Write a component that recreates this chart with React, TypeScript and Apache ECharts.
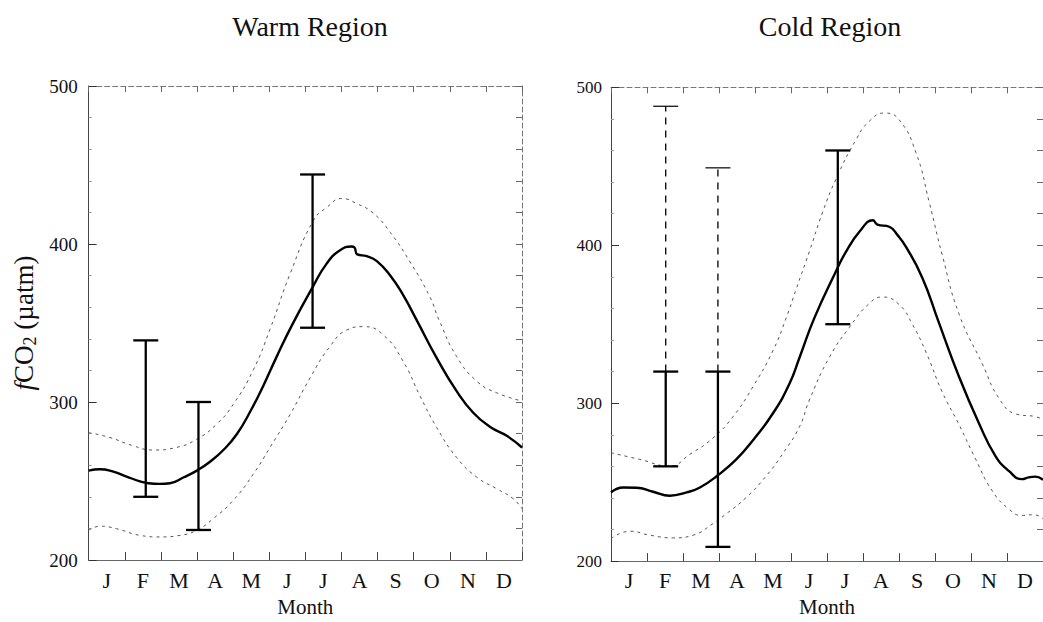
import React, { useEffect, useRef } from "react";
import * as echarts from "echarts";

// Month initials along the bottom axis
const MONTHS = ["J", "F", "M", "A", "M", "J", "J", "A", "S", "O", "N", "D"];
const Y_MIN = 200;
const Y_MAX = 500;
const Y_STEP = 100;

// Warm region: [month, fCO2]
const warmMean: [number, number][] = [
  [0, 256.6], [0.31, 257.4], [0.68, 255.9], [1.05, 252.8], [1.42, 249.8], [1.65, 248.6],
  [1.97, 248.2], [2.25, 248.6], [2.62, 252.2], [3.02, 256.9], [3.36, 262.2], [3.73, 269.6],
  [4.1, 279.6], [4.47, 293.8], [4.84, 310.5], [5.2, 328.4], [5.62, 348.2], [6.18, 371.8],
  [6.59, 387.6], [6.96, 396.0], [7.28, 398.4], [7.36, 397.8], [7.44, 393.4], [7.7, 392.3],
  [7.98, 389.2], [8.35, 380.1], [8.71, 367.6], [9.09, 351.5], [9.64, 327.8], [10.19, 306.9],
  [10.65, 293.2], [11.12, 284.2], [11.58, 278.6], [12, 271.2],
];
const warmUpper: [number, number][] = [
  [0, 280.6], [0.59, 277.5], [1.23, 272.3], [1.78, 269.6], [2.42, 271.2], [2.99, 276.4],
  [3.54, 285.9], [4.0, 298.4], [4.56, 320.4], [5.02, 346], [5.58, 381.3], [6.22, 414.8],
  [6.59, 423.1], [7.01, 428.8], [7.42, 425.6], [7.88, 419.5], [8.35, 407.4], [8.9, 388.6],
  [9.45, 366.5], [9.7, 352], [10.19, 328.8], [10.75, 313.1], [11.3, 305.8], [12, 300.6],
];
const warmLower: [number, number][] = [
  [0, 218.8], [0.31, 221.4], [0.77, 219.8], [1.42, 215.6], [1.97, 214.6], [2.53, 215.6],
  [2.99, 218.8], [3.45, 226.2], [4.0, 237.7], [4.56, 254.4], [5.02, 271.2], [5.58, 292.2],
  [6.13, 315.2], [6.68, 335.1], [7.15, 345.6], [7.61, 347.7], [8.16, 342.4], [8.71, 325.7],
  [9.18, 303.6], [9.64, 283.8], [10.19, 264.9], [10.75, 252.4], [11.3, 245.1], [11.76, 238.7],
  [12, 232.4],
];
// Warm region ranges: [month, low, high]
const warmBars: [number, number, number][] = [
  [1.58, 240, 339],
  [3.04, 219, 300],
  [6.2, 347, 444],
];

// Cold region
const coldMean: [number, number][] = [
  [0, 243.5], [0.34, 246.6], [0.71, 246.4], [1.17, 243.9], [1.63, 241.4], [2.1, 243.5],
  [2.47, 246.6], [2.97, 254.4], [3.48, 264.4], [3.94, 276.4], [4.5, 293.6], [4.96, 312.4],
  [5.24, 329.1], [5.65, 354], [6.25, 383.5], [6.53, 396], [6.9, 408.5], [7.27, 415.8],
  [7.4, 413.1], [7.73, 411.7], [7.96, 406.4], [8.19, 399.1], [8.65, 379.3], [9.09, 352.1],
  [9.67, 316.6], [10.22, 287.3], [10.68, 266.5], [11.05, 257.1], [11.42, 251.9], [11.6, 253],
  [11.79, 253.5], [12, 251.4],
];
const coldUpper: [number, number][] = [
  [0, 268.6], [0.8, 264.4], [1.63, 260.2], [2.19, 267.6], [2.83, 277.9], [3.39, 291.5],
  [3.94, 310.3], [4.5, 333.3], [4.87, 354.2], [5.14, 372], [5.51, 396], [5.88, 421],
  [6.25, 441.9], [6.81, 467], [7.17, 478.4], [7.59, 483.7], [8.0, 479.5], [8.47, 458.7],
  [8.84, 427.2], [9.2, 393.9], [9.67, 356.3], [10.31, 325.1], [10.78, 303],
  [11.24, 293.2], [11.79, 291.5], [12, 289.5],
];
const coldLower: [number, number][] = [
  [0, 214.3], [0.53, 218.9], [1.08, 216.4], [1.73, 214.7], [2.28, 216.4], [2.83, 223.7],
  [3.2, 229.9], [3.76, 240.4], [4.31, 253.9], [4.77, 268], [5.24, 285.3], [5.51, 302],
  [6.07, 329.2], [6.62, 347.9], [7.17, 363], [7.54, 367.2], [8.0, 362.5], [8.37, 350],
  [8.75, 332.3], [9.2, 307.1], [9.67, 286.3], [10.13, 264.5], [10.59, 244.5], [11.05, 233],
  [11.42, 228.9], [11.75, 229.4], [12, 226.8],
];
const coldBars: [number, number, number][] = [
  [1.52, 260, 320],
  [2.97, 209, 320],
  [6.3, 350, 460],
];
// Upper extensions of the cold-region ranges (dashed)
const coldBarExt: [number, number, number][] = [
  [1.52, 320, 488],
  [2.97, 320, 449],
];

const SERIF = "'Liberation Serif', 'Times New Roman', serif";
const INK = "#111";

function rangeRenderer(capW: number, lineWidth: number, dashed: boolean, bottomCap: boolean) {
  return (params: any, api: any) => {
    const x = api.value(0);
    const lo = api.coord([x, api.value(1)]);
    const hi = api.coord([x, api.value(2)]);
    const half = capW / 2;
    const stem = {
      stroke: "#000",
      lineWidth,
      lineDash: dashed ? [7, 6] : null,
    };
    const cap = { stroke: "#000", lineWidth: dashed ? 1.2 : lineWidth };
    const children: any[] = [
      { type: "line", shape: { x1: lo[0], y1: lo[1], x2: hi[0], y2: hi[1] }, style: stem },
      { type: "line", shape: { x1: hi[0] - half, y1: hi[1], x2: hi[0] + half, y2: hi[1] }, style: cap },
    ];
    if (bottomCap) {
      children.push({
        type: "line",
        shape: { x1: lo[0] - half, y1: lo[1], x2: lo[0] + half, y2: lo[1] },
        style: cap,
      });
    }
    return { type: "group", children };
  };
}

type Panel = {
  left: number;
  top: number;
  width: number;
  height: number;
  tickFont: number;
  tickMargin: number;
  monthMargin: number;
  monthGap: number;
  yName: boolean;
  mean: [number, number][];
  upper: [number, number][];
  lower: [number, number][];
  bars: [number, number, number][];
  ext: [number, number, number][];
};

export default function App() {
  const ref = useRef<HTMLDivElement>(null);

  useEffect(() => {
    if (!ref.current) return;
    const chart = echarts.init(ref.current, undefined, { renderer: "svg" });

    const panels: Panel[] = [
      {
        left: 88.7, top: 86, width: 433.3, height: 477.3,
        tickFont: 19, tickMargin: 11, monthMargin: 9, monthGap: 36, yName: true,
        mean: warmMean, upper: warmUpper, lower: warmLower, bars: warmBars, ext: [],
      },
      {
        left: 611, top: 87.3, width: 433, height: 478.7,
        tickFont: 17, tickMargin: 9, monthMargin: 8, monthGap: 34, yName: false,
        mean: coldMean, upper: coldUpper, lower: coldLower, bars: coldBars, ext: coldBarExt,
      },
    ];

    const grid: any[] = [];
    const xAxis: any[] = [];
    const yAxis: any[] = [];
    const series: any[] = [];

    const frameSolid = { show: true, lineStyle: { color: "#444", width: 1 } };
    const frameDashed = { show: true, lineStyle: { color: "#777", width: 1, type: [5, 3] } };

    panels.forEach((p, i) => {
      grid.push({ left: p.left, top: p.top, width: p.width, height: p.height, containLabel: false });

      // data axis (month 0–12), drawn along the top edge
      xAxis.push({
        type: "value", gridIndex: i, position: "top", min: 0, max: 12, interval: 1,
        axisLine: frameDashed,
        axisTick: { show: true, inside: true, length: 6, lineStyle: { color: "#666" } },
        axisLabel: { show: false }, splitLine: { show: false },
      });
      // month labels along the bottom edge
      xAxis.push({
        type: "category", gridIndex: i, position: "bottom", data: MONTHS, boundaryGap: true,
        axisLine: { show: true, lineStyle: { color: "#666", width: 1 } },
        axisTick: { show: true, inside: true, length: 8, lineStyle: { color: "#444" } },
        axisLabel: { show: true, interval: 0, margin: p.monthMargin, fontFamily: SERIF, fontSize: 22, color: INK },
        splitLine: { show: false },
        name: "Month", nameLocation: "middle", nameGap: p.monthGap,
        nameTextStyle: { fontFamily: SERIF, fontSize: 21, color: INK },
      });

      yAxis.push({
        type: "value", gridIndex: i, position: "left", min: Y_MIN, max: Y_MAX, interval: Y_STEP,
        axisLine: frameSolid,
        axisTick: { show: true, inside: true, length: 8, lineStyle: { color: "#333" } },
        minorTick: { show: true, splitNumber: 5, length: 3, lineStyle: { color: "#999" } },
        axisLabel: { show: true, margin: p.tickMargin, fontFamily: SERIF, fontSize: p.tickFont, color: INK },
        splitLine: { show: false },
        ...(p.yName
          ? {
              name: "{it|f}{rm|CO}{sub|2}{rm| (µatm)}",
              nameLocation: "middle",
              nameRotate: 90,
              nameGap: 50,
              nameTextStyle: {
                fontFamily: SERIF, fontSize: 27, color: INK,
                rich: {
                  it: { fontFamily: SERIF, fontSize: 27, fontStyle: "italic", lineHeight: 30, color: INK },
                  rm: { fontFamily: SERIF, fontSize: 27, lineHeight: 30, color: INK },
                  sub: { fontFamily: SERIF, fontSize: 18, lineHeight: 16, verticalAlign: "bottom", color: INK },
                },
              },
            }
          : {}),
      });
      yAxis.push({
        type: "value", gridIndex: i, position: "right", min: Y_MIN, max: Y_MAX, interval: 20,
        axisLine: frameDashed,
        axisTick: { show: true, inside: true, length: 6, lineStyle: { color: "#666" } },
        axisLabel: { show: false }, splitLine: { show: false },
      });

      const xi = i * 2;
      const yi = i * 2;
      const bound = (data: [number, number][]) => ({
        type: "line", xAxisIndex: xi, yAxisIndex: yi, data, symbol: "none",
        smooth: 0.5,
        lineStyle: { color: "#555", width: 1, type: [3, 4] },
        z: 2,
      });
      series.push(bound(p.upper));
      series.push(bound(p.lower));
      series.push({
        type: "line", xAxisIndex: xi, yAxisIndex: yi, data: p.mean, symbol: "none",
        smooth: 0.5,
        lineStyle: { color: "#000", width: 2.4 },
        z: 3,
      });
      series.push({
        type: "custom", xAxisIndex: xi, yAxisIndex: yi, data: p.bars,
        encode: { x: 0, y: [1, 2] },
        renderItem: rangeRenderer(25, 2.3, false, true),
        z: 4,
      });
      if (p.ext.length) {
        series.push({
          type: "custom", xAxisIndex: xi, yAxisIndex: yi, data: p.ext,
          encode: { x: 0, y: [1, 2] },
          renderItem: rangeRenderer(25, 1.3, true, false),
          z: 4,
        });
      }
    });

    chart.setOption({
      animation: false,
      backgroundColor: "#fff",
      grid,
      xAxis,
      yAxis,
      series,
      graphic: [
        {
          type: "text", x: 310, y: 26,
          style: { text: "Warm Region", fontFamily: SERIF, fontSize: 28, fill: INK, align: "center", verticalAlign: "middle" },
        },
        {
          type: "text", x: 830, y: 26,
          style: { text: "Cold Region", fontFamily: SERIF, fontSize: 28, fill: INK, align: "center", verticalAlign: "middle" },
        },
      ],
    });

    return () => chart.dispose();
  }, []);

  return (
    <div
      ref={ref}
      style={{ position: "absolute", left: 0, top: 0, width: 1043, height: 622, background: "#fff" }}
    />
  );
}
